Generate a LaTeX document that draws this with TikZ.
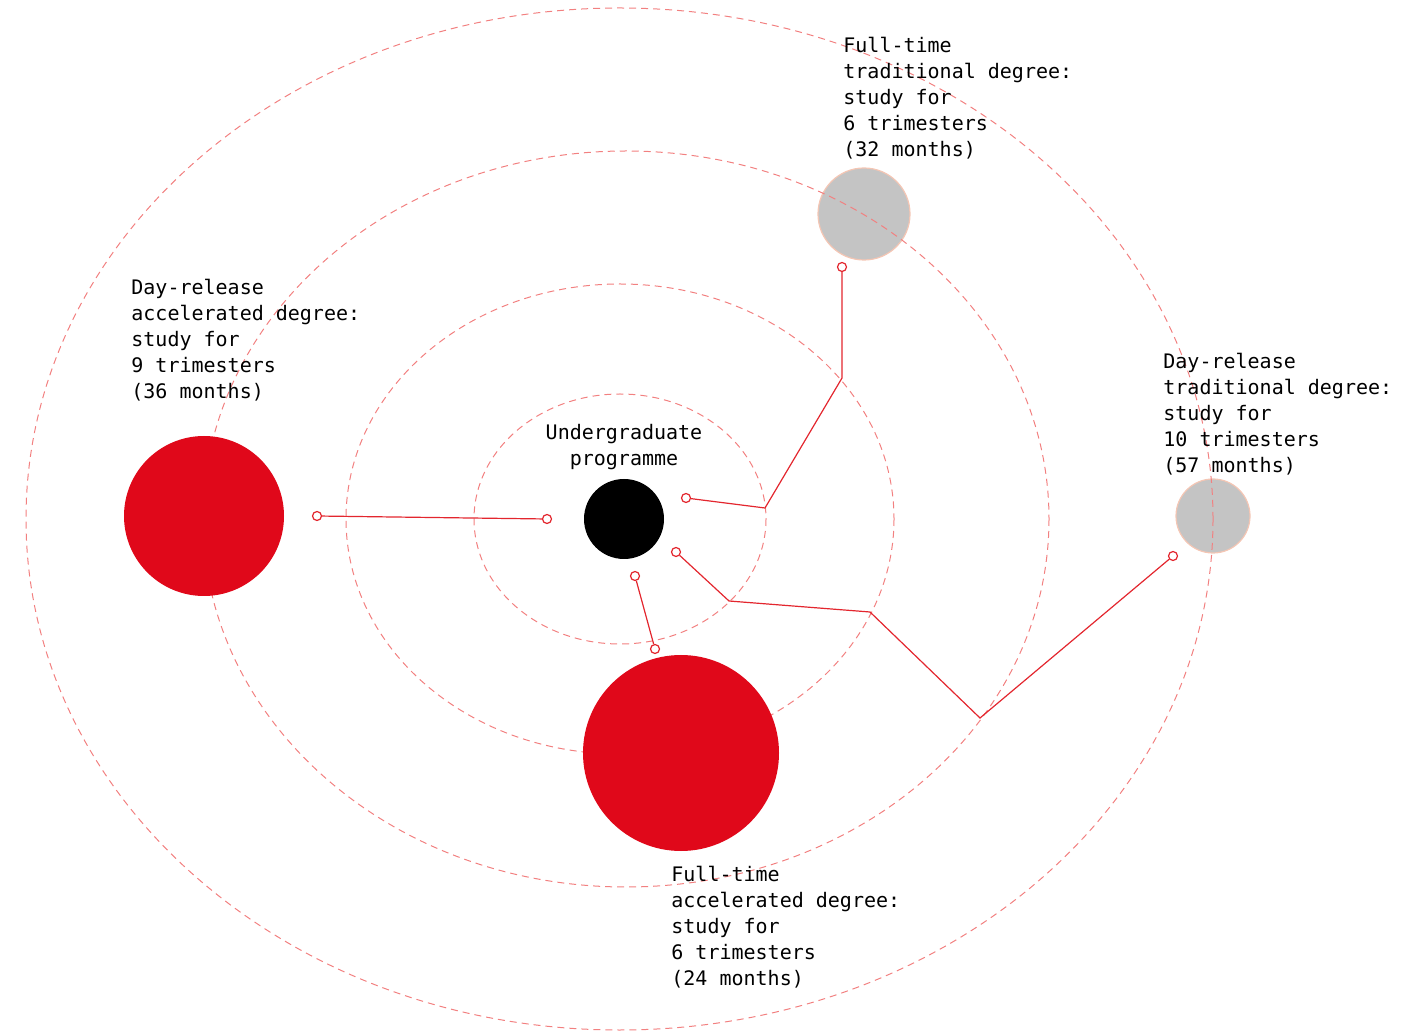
\documentclass[tikz,border=0pt]{standalone}
\usepackage{fontspec}
\setmonofont{DejaVu Sans Mono}
\usetikzlibrary{arrows.meta}
\definecolor{dotred}{HTML}{E0081A}
\definecolor{wirered}{HTML}{E3262E}
\definecolor{orbitred}{HTML}{F28080}
\definecolor{moongray}{HTML}{C4C4C4}
\definecolor{moonrim}{HTML}{F4C6B4}
\tikzset{
  orbit/.style={orbitred, line width=0.5pt, dash pattern=on 3.5pt off 2.5pt},
  planet/.style={circle, fill=dotred, inner sep=0pt},
  moon/.style={circle, fill=moongray, draw=moonrim, line width=0.6pt, inner sep=0pt},
  plug/.style={circle, draw=wirered, fill=white, line width=0.6pt, inner sep=0pt, minimum size=4.5pt},
  wire/.style={wirered, line width=0.6pt},
  caption/.style={anchor=north west, inner sep=0pt, align=left}
}

\begin{document}
\begin{tikzpicture}[x=0.5pt, y=-0.5pt, font=\ttfamily\fontsize{10}{13}\selectfont]
\useasboundingbox (0,0) rectangle (1414,1031);

% moons
\node[moon, minimum size=46pt] (ftt) at (864,214) {};
\node[moon, minimum size=37pt] (drt) at (1213,516) {};

% orbits
\draw[orbit] (620,519) ellipse (146 and 125);
\draw[orbit] (620,519) ellipse (274 and 235);
\draw[orbit] (626,519) ellipse (423 and 368);
\draw[orbit] (619.5,519) ellipse (593.5 and 511);

% planets
\node[planet, fill=black, minimum size=40pt] (ug) at (624,519) {};
\node[planet, minimum size=80pt] (dra) at (204,516) {};
\node[planet, minimum size=98pt] (fta) at (681,753) {};

% texts
\node[inner sep=0pt, align=center] (ugtext) at (624,447) {Undergraduate\\programme};
\node[caption] (dratext) at (131,279) {Day-release\\accelerated degree:\\study for\\9 trimesters\\(36 months)};
\node[caption] (ftttext) at (843,37) {Full-time\\traditional degree:\\study for\\6 trimesters\\(32 months)};
\node[caption] (drttext) at (1163,353) {Day-release\\traditional degree:\\study for\\10 trimesters\\(57 months)};
\node[caption] (ftatext) at (671,866) {Full-time\\accelerated degree:\\study for\\6 trimesters\\(24 months)};

% plugs
\node[plug] (p1a) at (317,516) {};
\node[plug] (p1b) at (547,519) {};
\node[plug] (p2a) at (686,498) {};
\node[plug] (p2b) at (842,267) {};
\node[plug] (p3a) at (676,552) {};
\node[plug] (p3b) at (1173,556) {};
\node[plug] (p4a) at (635,576) {};
\node[plug] (p4b) at (655,649) {};

\coordinate (k2a) at (765,508);
\coordinate (k2b) at (842,378);
\coordinate (k3a) at (729,601);
\coordinate (k3b) at (870,612);
\coordinate (k3c) at (980,718);

% wires
\draw[wire] (p1a) -- (p1b);
\draw[wire] (p2a) -- (k2a) -- (k2b) -- (p2b);
\draw[wire] (p3a) -- (k3a) -- (k3b) -- (k3c) -- (p3b);
\draw[wire] (p4a) -- (p4b);
\end{tikzpicture}
\end{document}
